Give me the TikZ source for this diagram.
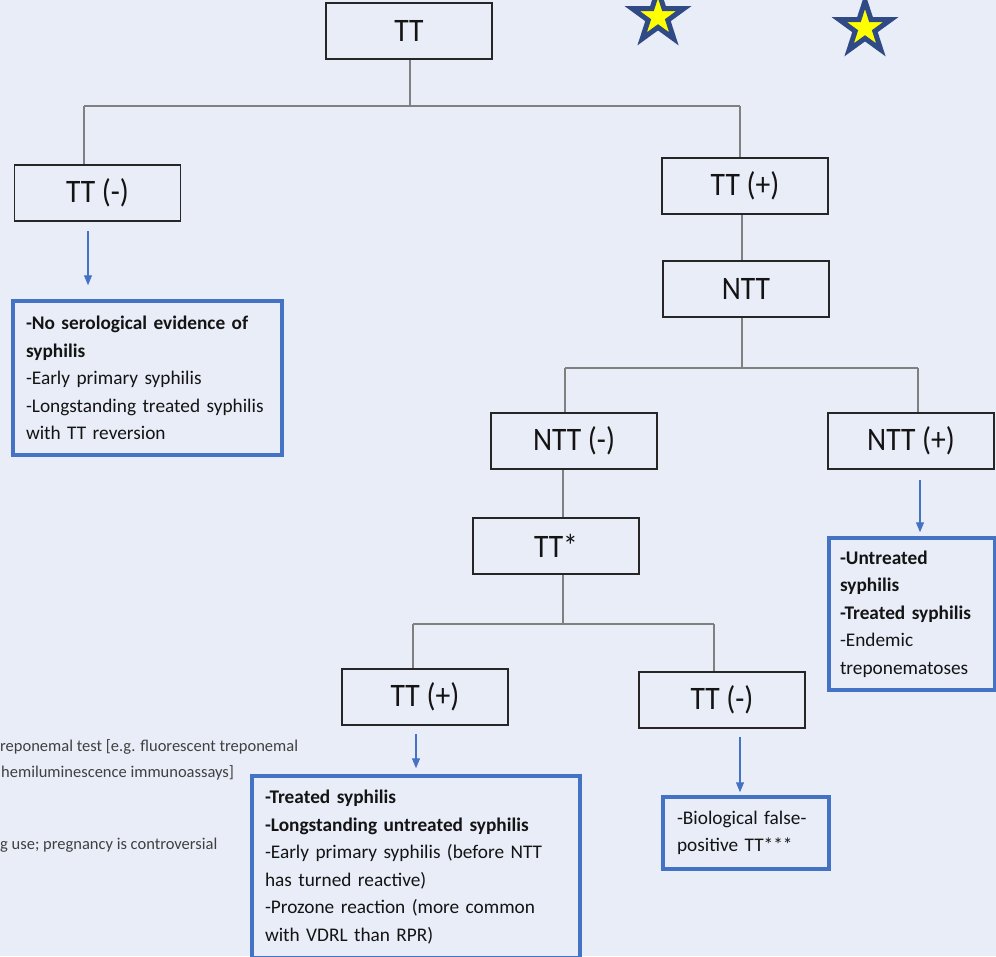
\documentclass[tikz,border=0pt]{standalone}
\usepackage{fontspec}
\setmainfont{Carlito}
\usetikzlibrary{shapes.geometric,arrows.meta}
\definecolor{bg}{RGB}{233,237,248}
\definecolor{bblue}{RGB}{68,114,196}
\definecolor{conncol}{RGB}{128,128,128}
\definecolor{boxline}{RGB}{38,38,38}
\definecolor{starblue}{RGB}{47,74,133}
\definecolor{staryellow}{RGB}{255,255,0}
\definecolor{txt}{RGB}{20,20,20}
\newcommand\tallt[1]{\scalebox{1.02}[1.13]{#1}}
\begin{document}
\begin{tikzpicture}[x=1pt,y=-1pt,
  tbox/.style={draw=boxline, line width=1.8pt, minimum width=166pt, minimum height=56pt, inner sep=0pt, font=\fontsize{29}{32}\selectfont, text=txt},
  bbox/.style={draw=bblue, line width=3.5pt, align=left, inner ysep=0pt, font=\fontsize{19.3}{27.6}\selectfont, text=txt},
  link/.style={draw=conncol, line width=1.5pt},
  arr/.style={draw=bblue, line width=1.2pt, -{Triangle[length=10pt,width=8pt]}},
  starshape/.style={star, star points=5, star point ratio=2.618, fill=staryellow, draw=starblue, line width=5pt, inner sep=0pt, minimum size=54pt},
  frag/.style={anchor=west, font=\fontsize{16.5}{18}\selectfont, text=black!75, inner sep=0pt}
]
\useasboundingbox (0,0) rectangle (996,956);
\fill[bg] (0,0) rectangle (996,956);
\clip (0,0) rectangle (996,956);

% stars
\node[starshape] (star1) at (658,17) {};
\node[starshape] (star2) at (865,28) {};

% left text fragments
\node[frag] (f1) at (0,747) {reponemal test [e.g. fluorescent treponemal};
\node[frag] (f2) at (1,773) {hemiluminescence immunoassays]};
\node[frag] (f3) at (0,845) {g use; pregnancy is controversial};

% tree boxes
\node[tbox] (tt) at (409,31) {\tallt{TT}};
\node[tbox] (ttneg) at (97.5,193) {\tallt{TT (-)}};
\node[tbox] (ttpos) at (745,186) {\tallt{TT (+)}};
\node[tbox] (ntt) at (746,289) {\tallt{NTT}};
\node[tbox] (nttneg) at (574,441) {\tallt{NTT (-)}};
\node[tbox] (nttpos) at (911,441) {\tallt{NTT (+)}};
\node[tbox] (ttstar) at (556,546) {\tallt{TT*}};
\node[tbox] (ttpostwo) at (425,697) {\tallt{TT (+)}};
\node[tbox] (ttnegtwo) at (722,700) {\tallt{TT (-)}};

% result boxes
\node[bbox, inner xsep=13pt, text width=243pt, minimum height=154pt] (r1) at (147.5,378)
  {\textbf{-No serological evidence of}\\\textbf{syphilis}\\-Early primary syphilis\\-Longstanding treated syphilis\\with TT reversion};
\node[bbox, inner xsep=11pt, text width=144pt, minimum height=152pt] (r2) at (912,614)
  {\textbf{-Untreated}\\\textbf{syphilis}\\\textbf{-Treated syphilis}\\-Endemic\\treponematoses};
\node[bbox, inner xsep=13pt, text width=302pt, minimum height=182pt] (r3) at (416,867)
  {\textbf{-Treated syphilis}\\\textbf{-Longstanding untreated syphilis}\\-Early primary syphilis (before NTT\\has turned reactive)\\-Prozone reaction (more common\\with VDRL than RPR)};
\node[bbox, inner xsep=14pt, text width=138pt, minimum height=72pt] (r4) at (746,833)
  {-Biological false-\\positive TT***};

% junction coordinates
\coordinate (ja) at (84,106);
\coordinate (jb) at (740,106);
\coordinate (jc) at (565,368);
\coordinate (jd) at (918,368);
\coordinate (je) at (413,624);
\coordinate (jf) at (714,624);
\coordinate (xa) at (742,0);
\coordinate (xb) at (563,0);

% grey connectors
\draw[link] ([xshift=1pt]tt.south) -- ([xshift=1pt]tt.south |- ja);
\draw[link] (ja) -- (jb);
\draw[link] (ja) -- (ja |- ttneg.north);
\draw[link] (jb) -- (jb |- ttpos.north);
\draw[link] (xa |- ttpos.south) -- (xa |- ntt.north);
\draw[link] (xa |- ntt.south) -- (xa |- jc);
\draw[link] (jc) -- (jd);
\draw[link] (jc) -- (jc |- nttneg.north);
\draw[link] (jd) -- (jd |- nttpos.north);
\draw[link] (xb |- nttneg.south) -- (xb |- ttstar.north);
\draw[link] (xb |- ttstar.south) -- (xb |- je);
\draw[link] (je) -- (jf);
\draw[link] (je) -- (je |- ttpostwo.north);
\draw[link] (jf) -- (jf |- ttnegtwo.north);

% blue arrows
\draw[arr, shorten <=9pt, shorten >=14pt] ([xshift=-9.5pt]ttneg.south) -- ([xshift=-9.5pt]ttneg.south |- r1.north);
\draw[arr, shorten <=10pt, shorten >=4pt] ([xshift=9pt]nttpos.south) -- ([xshift=9pt]nttpos.south |- r2.north);
\draw[arr, shorten <=8pt, shorten >=6pt] ([xshift=-9pt]ttpostwo.south) -- ([xshift=-9pt]ttpostwo.south |- r3.north);
\draw[arr, shorten <=8pt, shorten >=3pt] ([xshift=18pt]ttnegtwo.south) -- ([xshift=18pt]ttnegtwo.south |- r4.north);
\end{tikzpicture}
\end{document}
